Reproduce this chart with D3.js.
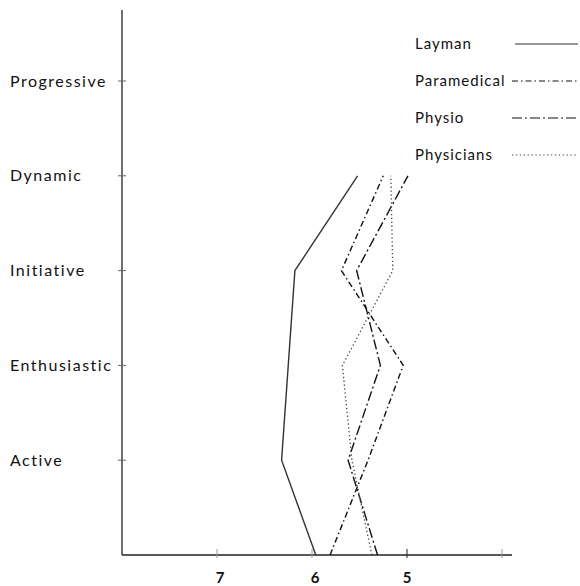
<!DOCTYPE html>
<html><head><meta charset="utf-8">
<script src="https://cdn.jsdelivr.net/npm/d3@7"></script>
<style>body{margin:0;background:#fff}svg{display:block}</style>
</head><body>
<svg id="c" width="580" height="586"></svg>
<script>
// levels from bottom (baseline) upward
const levels = ["", "Active", "Enthusiastic", "Initiative", "Dynamic", "Progressive"];
const xTicks = [7, 6, 5, 4];
const xTickLabels = ["7", "6", "5", ""];
const seriesNames = ["Layman", "Paramedical", "Physio", "Physicians"];
// values at levels: baseline, Active, Enthusiastic, Initiative, Dynamic
const layman      = [5.96, 6.32, 6.25, 6.18, 5.52];
const paramedical = [5.81, 5.41, 5.04, 5.69, 5.25];
const physio      = [5.31, 5.62, 5.28, 5.53, 4.99];
const physicians  = [5.37, 5.58, 5.68, 5.15, 5.17];

const seriesValues = [layman, paramedical, physio, physicians];
const styles = [
  {dash: null, color: "#333", w: 1.4},
  {dash: "6,3,1.5,3", color: "#111", w: 1.4},
  {dash: "10,3,2,3", color: "#111", w: 1.4},
  {dash: "1.3,2.6", color: "#444", w: 1.3}
];

const svg = d3.select("#c");
const font = "Lato, 'Open Sans', sans-serif";
const x = d3.scaleLinear().domain([8, 4]).range([122, 502]);
const y = d3.scaleLinear().domain([0, 5]).range([555, 81]);

// axes lines
svg.append("line").attr("x1", 122).attr("x2", 122).attr("y1", 10).attr("y2", 555)
  .attr("stroke", "#222").attr("stroke-width", 1.3);
svg.append("line").attr("x1", 122).attr("x2", 512).attr("y1", 555).attr("y2", 555)
  .attr("stroke", "#222").attr("stroke-width", 1.3);

// y ticks and labels
levels.forEach((lab, i) => {
  if (!lab) return;
  svg.append("line").attr("x1", 118).attr("x2", 126).attr("y1", y(i)).attr("y2", y(i))
    .attr("stroke", "#666").attr("stroke-width", 1);
  svg.append("text").attr("x", 10).attr("y", y(i)).attr("dy", "0.35em")
    .attr("font-family", font).attr("font-size", 16).attr("letter-spacing", 1.5)
    .attr("fill", "#111").text(lab);
});

// x ticks
xTicks.forEach((t, i) => {
  svg.append("line").attr("x1", x(t)).attr("x2", x(t)).attr("y1", 549).attr("y2", 558)
    .attr("stroke", i === 2 ? "#222" : "#999").attr("stroke-width", 1);
  if (xTickLabels[i]) svg.append("text").attr("x", x(t) + (i === 2 ? 0 : 3)).attr("y", 583)
    .attr("text-anchor", "middle").attr("font-family", font).attr("font-size", 15)
    .attr("font-weight", "bold").attr("fill", "#111").text(xTickLabels[i]);
});

// series lines
const line = d3.line().x(d => x(d)).y((d, i) => y(i));
seriesValues.forEach((vals, k) => {
  const s = styles[k];
  svg.append("path").attr("d", line(vals)).attr("fill", "none")
    .attr("stroke", s.color).attr("stroke-width", s.w)
    .attr("stroke-dasharray", s.dash);
});

// legend
seriesNames.forEach((name, k) => {
  const s = styles[k];
  const ly = 44 + k * 37;
  svg.append("text").attr("x", 415).attr("y", ly).attr("dy", "0.35em")
    .attr("font-family", font).attr("font-size", 15).attr("letter-spacing", 1)
    .attr("fill", "#111").text(name);
  svg.append("line").attr("x1", k === 0 ? 515 : 512).attr("x2", 578).attr("y1", ly).attr("y2", ly)
    .attr("stroke", s.color).attr("stroke-width", 1.1).attr("stroke-dasharray", s.dash);
});
</script>
</body></html>
